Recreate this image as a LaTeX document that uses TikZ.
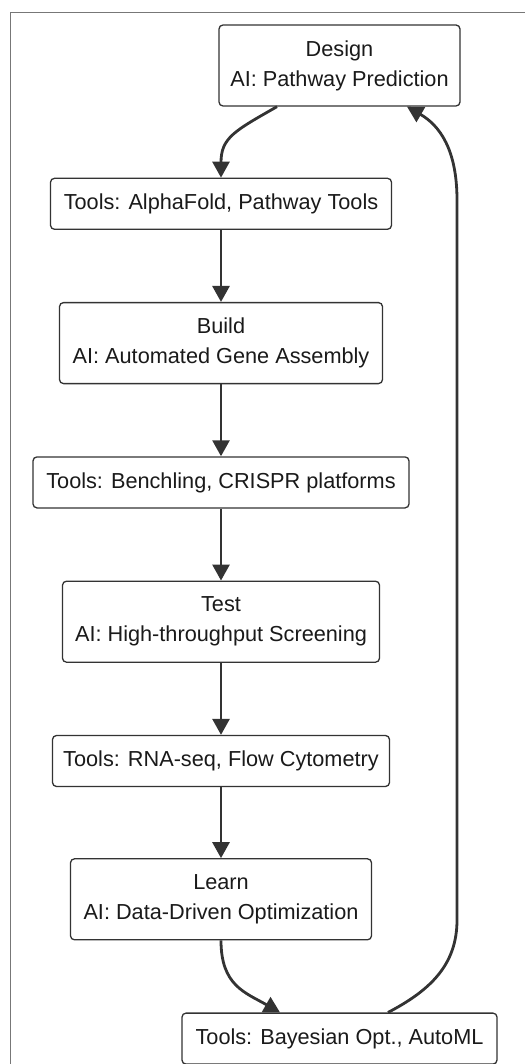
\documentclass[tikz,border=0pt]{standalone}
\usepackage{fontspec}
\setmainfont{Liberation Sans}
\usepackage{tikz}
\usetikzlibrary{arrows.meta,positioning}
\definecolor{EdgeGray}{HTML}{333333}
\definecolor{FrameGray}{HTML}{777777}
\definecolor{TextDark}{HTML}{1A1A1A}

\begin{document}
\begin{tikzpicture}[
x=1pt,y=1pt,
node distance=72pt,
stage/.style={draw=EdgeGray,line width=1.3pt,rounded corners=4pt,fill=white,align=center,minimum height=81pt,text=TextDark,font=\fontsize{21.7}{30}\selectfont},
tool/.style={stage,minimum height=51pt},
arr/.style={-{Triangle[length=16pt,width=17pt]},line width=2.8pt,draw=EdgeGray}
]
\useasboundingbox (0,0) rectangle (524,-1064);
\draw[FrameGray,line width=1pt] (10,-13) rectangle (560,-1100);
% DBTL cycle
\node[stage,minimum width=241pt] (design) at (339.5,-65.5) {Design\\AI: Pathway Prediction};
\node[tool,minimum width=341pt,below=71pt of design,xshift=-118.5pt] (alpha) {Tools: AlphaFold, Pathway Tools};
\node[stage,minimum width=323pt,below=of alpha] (build) {Build\\AI: Automated Gene Assembly};
\node[tool,minimum width=376pt,below=of build] (bench) {Tools: Benchling, CRISPR platforms};
\node[stage,minimum width=317pt,below=of bench] (test) {Test\\AI: High-throughput Screening};
\node[tool,minimum width=337pt,below=of test] (rnaseq) {Tools: RNA-seq, Flow Cytometry};
\node[stage,minimum width=301pt,below=71pt of rnaseq] (learn) {Learn\\AI: Data-Driven Optimization};
\node[tool,minimum width=315pt,below=of learn,xshift=118.5pt] (bayes) {Tools: Bayesian Opt., AutoML};
\draw[arr] ([xshift=-62.5pt]design.south) .. controls +(-42,-24) and +(0,40) .. (alpha.north);
\draw[arr] (alpha) -- (build);
\draw[arr] (build) -- (bench);
\draw[arr] (bench) -- (test);
\draw[arr] (test) -- (rnaseq);
\draw[arr] (rnaseq) -- (learn);
\draw[arr] (learn.south) .. controls +(0,-45) and +(-35,20) .. ([xshift=-59.5pt]bayes.north);
% feedback loop
\draw[arr] ([xshift=48.5pt]bayes.north) .. controls +(42,22) and +(0,-45) .. (457,-920)
  -- (457,-200) .. controls +(0,50) and +(33,-19) .. ([xshift=67.5pt]design.south);
\end{tikzpicture}
\end{document}
